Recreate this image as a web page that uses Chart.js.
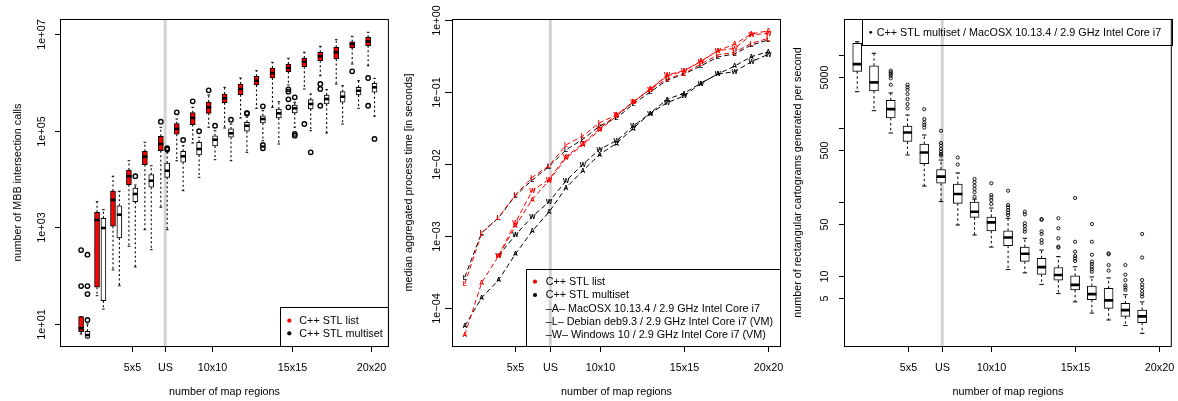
<!DOCTYPE html>
<html><head><meta charset="utf-8">
<script src="https://cdn.jsdelivr.net/npm/chart.js@4.4.0/dist/chart.umd.min.js"></script>
<style>
html,body{margin:0;padding:0;background:#fff;overflow:hidden;}
#wrap{position:relative;width:1178px;height:401px;background:#fff;}
.pn{position:absolute;top:0;height:401px;}
</style></head><body>
<div id="wrap">
<div class="pn" style="left:0;width:393px"><canvas id="c1"></canvas></div>
<div class="pn" style="left:393px;width:393px"><canvas id="c2"></canvas></div>
<div class="pn" style="left:786px;width:392px"><canvas id="c3"></canvas></div>
</div>
<script>
const FONT_FAMILY = '"Liberation Sans", Arial, Helvetica, sans-serif';
const FONT_SIZE = 10.8;

// ---------- shared x axis ----------
const xTickValues = [5, 7.07, 10, 15, 20];
const xTickLabels = ['5x5', 'US', '10x10', '15x15', '20x20'];
const usPosition = 7.07;
const xAxisTitle = 'number of map regions';

// ---------- panel 1 : MBB intersection calls ----------
const gridSizes1 = [2,3,4,5,6,7,8,9,10,11,12,13,14,15,16,17,18,19,20];
const listLow  = [6.1, 38, 130, 402, 887, 2590, 23900, 55700, 118000, 114000, 184000, 292000, 306000, 889000, 734000, 1380000, 931000, 2420000, 2230000];
const listQ1   = [6.8, 57, 1045, 7600, 19800, 38500, 84400, 134000, 230000, 382000, 558000, 889000, 1240000, 1680000, 2130000, 2830000, 3080000, 5200000, 5800000];
const listMed  = [8, 1410, 3670, 11400, 29000, 53100, 109000, 184000, 306000, 471000, 734000, 1090000, 1570000, 2000000, 2700000, 3500000, 4240000, 6290000, 7160000];
const listQ3   = [14, 2040, 5640, 15300, 37500, 76700, 140000, 237000, 394000, 578000, 931000, 1350000, 2000000, 2420000, 3220000, 4240000, 5370000, 7010000, 8670000];
const listHigh = [14, 3380, 11400, 23900, 57700, 118000, 175000, 306000, 551000, 796000, 1240000, 1760000, 2620000, 3170000, 4240000, 5640000, 7730000, 9080000, 11000000];
const listOut  = [[60, 336], [], [], [], [], [154000], [241000], [408000], [690000], [], [], [], [], [723000, 645000, 449000, 306000], [138000], [931000, 734000, 330000], [], [1710000], [1240000, 330000]];

const msetLow  = [5, 20, 61, 150, 342, 887, 5720, 10800, 25100, 23900, 35700, 62200, 53100, 118000, 100000, 89700, 138000, 292000, 200000];
const msetQ1   = [5, 30, 597, 3380, 6730, 10800, 22200, 31400, 48300, 73200, 97500, 145000, 184000, 233000, 282000, 359000, 389000, 551000, 627000];
const msetMed  = [5.8, 964, 1820, 4890, 9200, 14800, 29500, 41900, 65200, 88500, 127000, 175000, 230000, 292000, 359000, 455000, 508000, 676000, 796000];
const msetQ3   = [6.95, 1530, 2790, 6500, 12300, 21400, 37500, 57700, 78900, 109000, 150000, 205000, 282000, 342000, 441000, 551000, 645000, 796000, 964000];
const msetHigh = [9.8, 2310, 5560, 7500, 18800, 35700, 49000, 73200, 100000, 138000, 193000, 261000, 400000, 389000, 578000, 710000, 859000, 1090000, 1220000];
const msetOut  = [[11.9, 41, 60, 269], [], [], [11400], [], [41000, 43300], [64300], [97500], [127000], [169000], [228000, 233000], [321000, 50700, 43300], [], [494000, 85700, 78900], [35700], [], [], [], [67500]];

const yTicks1 = [10, 1000, 100000, 10000000];
const yLabels1 = ['1e+01', '1e+03', '1e+05', '1e+07'];
const yTitle1 = 'number of MBB intersection calls';
const legend1 = ['C++ STL list', 'C++ STL multiset'];

// ---------- panel 2 : median process time ----------
const gridSizes2 = [2,3,4,5,6,7,8,9,10,11,12,13,14,15,16,17,18,19,20];
const listMacOSX   = [4.16e-5, 2.22e-4, 5.2e-4, 1.36e-3, 3.21e-3, 5.86e-3, 1.20e-2, 1.83e-2, 2.95e-2, 4.62e-2, 7.24e-2, 0.110, 0.166, 0.195, 0.269, 0.371, 0.464, 0.638, 0.710];
const listDebian   = [2.13e-4, 1.08e-3, 1.80e-3, 3.68e-3, 6.49e-3, 9.41e-3, 1.83e-2, 2.44e-2, 3.73e-2, 4.77e-2, 7.31e-2, 0.109, 0.151, 0.181, 0.244, 0.326, 0.356, 0.474, 0.556];
const listWindows  = [null, null, 5.27e-4, 1.52e-3, 4.23e-3, 6.08e-3, 1.26e-2, 1.90e-2, 3.12e-2, 4.77e-2, 7.31e-2, 0.109, 0.172, 0.197, 0.263, 0.374, 0.404, 0.619, 0.653];
const msetMacOSX   = [5.55e-5, 1.37e-4, 2.42e-4, 5.56e-4, 1.16e-3, 2.14e-3, 4.65e-3, 8.02e-3, 1.35e-2, 1.93e-2, 3.12e-2, 5.04e-2, 7.89e-2, 9.57e-2, 0.132, 0.177, 0.229, 0.309, 0.362];
const msetDebian   = [2.64e-4, 1.10e-3, 1.77e-3, 3.60e-3, 5.95e-3, 9.20e-3, 1.56e-2, 2.19e-2, 3.36e-2, 4.34e-2, 6.79e-2, 9.97e-2, 0.146, 0.177, 0.229, 0.306, 0.337, 0.449, 0.527];
const msetWindows  = [null, null, 5.27e-4, 1.02e-3, 1.84e-3, 2.97e-3, 5.77e-3, 9.84e-3, 1.59e-2, 2.10e-2, 3.36e-2, 5.04e-2, 7.08e-2, 8.77e-2, 0.132, 0.177, 0.191, 0.263, 0.333];
const osLetters = ['A', 'L', 'W'];

const yTicks2 = [1, 0.1, 0.01, 0.001, 0.0001];
const yLabels2 = ['1e+00', '1e\u221201', '1e\u221202', '1e\u221203', '1e\u221204'];
const yTitle2 = 'median aggregated process time [in seconds]';
const legend2 = ['C++ STL list', 'C++ STL multiset',
  '\u2013A\u2013 MacOSX 10.13.4 / 2.9 GHz Intel Core i7',
  '\u2013L\u2013 Debian deb9.3 / 2.9 GHz Intel Core i7 (VM)',
  '\u2013W\u2013 Windows 10 / 2.9 GHz Intel Core i7 (VM)'];

// ---------- panel 3 : cartograms per second ----------
const gridSizes3 = [2,3,4,5,6,7,8,9,10,11,12,13,14,15,16,17,18,19];
const rateLow  = [3130, 1730, 861, 433, 164, 101, 48.6, 35.6, 24.4, 12.1, 10.9, 7.6, 5.7, 4.4, 3.1, 2.5, 2.1, 1.65];
const rateQ1   = [5920, 3200, 1380, 661, 330, 179, 95.7, 61.8, 40.5, 25.5, 15.6, 10.4, 8.7, 6.4, 4.7, 3.6, 2.8, 2.3];
const rateMed  = [7430, 4200, 1820, 875, 468, 221, 128, 73.6, 52.8, 32.9, 19.8, 13.0, 10.2, 7.5, 5.6, 4.6, 3.4, 2.8];
const rateQ3   = [14200, 7050, 2390, 1070, 611, 275, 175, 99.7, 62.4, 40.6, 24.4, 17.2, 12.9, 9.9, 7.2, 6.7, 4.2, 3.4];
const rateHigh = [14900, 10400, 3010, 1510, 809, 370, 247, 109, 82.6, 60.0, 32.1, 22.2, 18.1, 13.2, 9.6, 9.3, 5.5, 4.4];
const rateOut  = [[], [], [3890, 4760, 5160, 5440, 5740, 6030], [1860, 2130, 2490, 2910, 3330, 3590, 3890], [1020, 1110, 1200, 1330, 1810], [424, 447, 480, 522, 579, 630, 923], [322, 401], [117, 135, 150, 166, 185, 205], [93.7, 106, 115, 124, 179], [66.4, 71.4, 77.6, 84.5, 90.8, 142], [39.4, 42.5, 47.1, 51.3, 67.9, 73.6], [27.7, 30.4, 36.7, 39.9, 57, 58.6], [24, 24.7, 32.1, 43.9, 60], [15.8, 17.1, 18.4, 21.1, 28.8, 113], [11.3, 12.2, 13.2, 14.4, 15.5, 19.2, 28.8, 50.1], [11.7, 13.9, 19.5, 20.1], [6.4, 6.9, 7.4, 8.7, 10.3, 13.9], [5.2, 5.6, 6.2, 6.9, 7.6, 8.7, 17.6, 36.7]];

const yTicks3 = [5, 10, 50, 100, 500, 1000, 5000, 10000];
const yLabels3 = ['5', '10', '50', '', '500', '', '5000', ''];
const yTitle3 = 'number of rectangular cartograms generated per second';
const legend3 = ['C++ STL multiset / MacOSX 10.13.4 / 2.9 GHz Intel Core i7'];

// ================= helpers =================
const RED = '#ff0000';
function font(sz){ return sz + 'px ' + FONT_FAMILY; }

function makeBoxDatasets(xs, lo, q1, med, q3, hi, out, st) {
  return [
    { type:'bar', label: st.label,
      data: xs.map((x,i)=>({x, y:[q1[i], q3[i]]})),
      backgroundColor: st.fill, borderColor:'#000', borderWidth:1, borderSkipped:false,
      barThickness: st.boxW, grouped:false, order:3,
      whisker:{xs, lo, q1, q3, hi, cap: st.capW, dash: st.dash, lw: st.whiskW} },
    { type:'scatter', data: xs.map((x,i)=>({x, y:med[i]})),
      pointStyle:'line', pointRadius: st.boxW/2, pointHoverRadius: st.boxW/2,
      pointBorderWidth: st.medW, pointBorderColor:'#000', borderColor:'#000', order:2 },
    { type:'scatter', data: out.flatMap((arr,i)=>arr.map(v=>({x:xs[i], y:v}))),
      pointStyle:'circle', pointRadius: st.outR, pointHoverRadius: st.outR,
      pointBorderWidth: st.outW, pointBorderColor:'#000', borderColor:'#000',
      pointBackgroundColor:'rgba(0,0,0,0)', backgroundColor:'rgba(0,0,0,0)', order:1 }
  ];
}

const usLinePlugin = {
  id:'usLine',
  beforeDatasetsDraw(chart){
    const {ctx, chartArea:a, scales:{x}} = chart;
    const px = x.getPixelForValue(usPosition);
    ctx.save();
    ctx.strokeStyle = '#d3d3d3'; ctx.lineWidth = 3;
    ctx.beginPath(); ctx.moveTo(px, a.top); ctx.lineTo(px, a.bottom); ctx.stroke();
    ctx.restore();
  }
};

const whiskerPlugin = {
  id:'whiskers',
  beforeDatasetsDraw(chart){
    const {ctx, scales:{x, y}} = chart;
    chart.data.datasets.forEach(ds=>{
      const w = ds.whisker; if(!w) return;
      ctx.save();
      ctx.strokeStyle = '#000'; ctx.lineWidth = w.lw;
      w.xs.forEach((xv,i)=>{
        const px = x.getPixelForValue(xv);
        const yLo = y.getPixelForValue(w.lo[i]), yQ1 = y.getPixelForValue(w.q1[i]);
        const yQ3 = y.getPixelForValue(w.q3[i]), yHi = y.getPixelForValue(w.hi[i]);
        ctx.setLineDash(w.dash);
        ctx.beginPath();
        ctx.moveTo(px, yQ3); ctx.lineTo(px, yHi);
        ctx.moveTo(px, yQ1); ctx.lineTo(px, yLo);
        ctx.stroke();
        ctx.setLineDash([]);
        ctx.lineWidth = 1;
        ctx.beginPath();
        ctx.moveTo(px - w.cap/2, yHi); ctx.lineTo(px + w.cap/2, yHi);
        ctx.moveTo(px - w.cap/2, yLo); ctx.lineTo(px + w.cap/2, yLo);
        ctx.stroke();
        ctx.lineWidth = w.lw;
      });
      ctx.restore();
    });
  }
};

function rotText(ctx, text, x, y){
  ctx.save(); ctx.translate(x, y); ctx.rotate(-Math.PI/2);
  ctx.textAlign = 'center'; ctx.textBaseline = 'alphabetic';
  ctx.fillText(text, 0, 0); ctx.restore();
}

function axesPlugin(cfg){
  return {
    id:'rAxes',
    afterDraw(chart){
      const {ctx, chartArea:a, scales:{x, y}} = chart;
      ctx.save();
      ctx.strokeStyle = '#000'; ctx.fillStyle = '#000'; ctx.lineWidth = 1;
      ctx.strokeRect(a.left - 0.5, a.top + 0.5, a.right - a.left + 1, a.bottom - a.top);
      ctx.font = font(FONT_SIZE);
      ctx.textAlign = 'center'; ctx.textBaseline = 'alphabetic';
      xTickValues.forEach((v,i)=>{
        const px = Math.round(x.getPixelForValue(v)) + 0.5;
        ctx.beginPath(); ctx.moveTo(px, a.bottom); ctx.lineTo(px, a.bottom + 6); ctx.stroke();
        ctx.fillText(xTickLabels[i], px, 370.5);
      });
      ctx.fillText(xAxisTitle, (a.left + a.right)/2, 395);
      cfg.yTicks.forEach((v,i)=>{
        const py = Math.round(y.getPixelForValue(v)) + 0.5;
        ctx.beginPath(); ctx.moveTo(a.left - cfg.tickLen, py); ctx.lineTo(a.left, py); ctx.stroke();
        if (cfg.yLabels[i]) rotText(ctx, cfg.yLabels[i], cfg.labelX, py);
      });
      rotText(ctx, cfg.title, cfg.titleX, (a.top + a.bottom)/2);
      ctx.restore();
    }
  };
}

function legendPlugin(cfg){
  return {
    id:'rLegend',
    afterDraw(chart){
      const ctx = chart.ctx;
      ctx.save();
      ctx.strokeStyle = '#000'; ctx.lineWidth = 1;
      ctx.strokeRect(cfg.x0 + 0.5, cfg.y0 + 0.5, cfg.x1 - cfg.x0, cfg.y1 - cfg.y0);
      ctx.font = font(FONT_SIZE);
      ctx.textAlign = 'left'; ctx.textBaseline = 'middle';
      cfg.rows.forEach(r=>{
        if (r.dot) {
          ctx.fillStyle = r.dot;
          ctx.beginPath(); ctx.arc(cfg.dotX, r.y, cfg.dotR, 0, Math.PI*2); ctx.fill();
        }
        ctx.fillStyle = '#000';
        ctx.fillText(r.text, cfg.textX, r.y + 0.5);
      });
      ctx.restore();
    }
  };
}

const letterPlugin = {
  id:'letters',
  afterDatasetsDraw(chart){
    const ctx = chart.ctx;
    ctx.save();
    ctx.font = 'bold ' + font(6.6);
    ctx.textAlign = 'center'; ctx.textBaseline = 'middle';
    for (let i = chart.data.datasets.length - 1; i >= 0; i--) {
      const ds = chart.data.datasets[i];
      const meta = chart.getDatasetMeta(i);
      ctx.fillStyle = ds.letterColor;
      meta.data.forEach(pt => ctx.fillText(ds.letter, pt.x, pt.y + 0.5));
    }
    ctx.restore();
  }
};

const baseOptions = (pad, xr, yr) => ({
  animation:false, responsive:true, maintainAspectRatio:false, events:[],
  layout:{padding:pad},
  plugins:{legend:{display:false}, tooltip:{enabled:false}},
  scales:{
    x:{type:'linear', min:xr[0], max:xr[1], display:false, offset:false, bounds:'data'},
    y:{type:'logarithmic', min:yr[0], max:yr[1], display:false, bounds:'data'}
  }
});

// ================= panel 1 =================
const boxStyle1 = {boxW:5, capW:2.6, medW:2.6, outR:2.2, outW:1.4, dash:[2,2.5], whiskW:1.1};
const ds1 = [
  ...makeBoxDatasets(gridSizes1.map(n=>n-0.2), listLow, listQ1, listMed, listQ3, listHigh, listOut, {...boxStyle1, label:legend1[0], fill:RED}),
  ...makeBoxDatasets(gridSizes1.map(n=>n+0.2), msetLow, msetQ1, msetMed, msetQ3, msetHigh, msetOut, {...boxStyle1, label:legend1[1], fill:'#ffffff'})
];
new Chart(document.getElementById('c1'), {
  type:'bar',
  data:{datasets: ds1},
  options: baseOptions({left:61, right:5, top:19, bottom:55}, [0.54, 21.04], [3.44, 2.075e7]),
  plugins:[usLinePlugin, whiskerPlugin,
    axesPlugin({yTicks:yTicks1, yLabels:yLabels1, tickLen:6, labelX:45, title:yTitle1, titleX:20.7}),
    legendPlugin({x0:280, y0:307, x1:388, y1:346, dotX:289.3, dotR:2.1, textX:299.3,
      rows:[{dot:RED, text:legend1[0], y:320.7}, {dot:'#000', text:legend1[1], y:333.3}]})]
});

// ================= panel 2 =================
function lineSet(values, letter, color){
  return {
    label: letter, letter, letterColor: color,
    data: gridSizes2.map((x,i)=>({x, y: values[i]})).filter(p=>p.y !== null),
    borderColor: color, borderWidth:1, borderDash:[5,3], pointRadius:0, pointHoverRadius:0,
    fill:false, tension:0
  };
}
const ds2 = [
  lineSet(listMacOSX, osLetters[0], RED),
  lineSet(listDebian, osLetters[1], RED),
  lineSet(listWindows, osLetters[2], RED),
  lineSet(msetMacOSX, osLetters[0], '#000'),
  lineSet(msetDebian, osLetters[1], '#000'),
  lineSet(msetWindows, osLetters[2], '#000')
];
new Chart(document.getElementById('c2'), {
  type:'line',
  data:{datasets: ds2},
  options: baseOptions({left:60, right:6, top:19, bottom:55}, [1.30, 20.69], [2.92e-5, 1.032]),
  plugins:[usLinePlugin, letterPlugin,
    axesPlugin({yTicks:yTicks2, yLabels:yLabels2, tickLen:8, labelX:47, title:yTitle2, titleX:18.8}),
    legendPlugin({x0:133, y0:269, x1:387, y1:346, dotX:142, dotR:2.1, textX:152.7,
      rows:[{dot:RED, text:legend2[0], y:281.7}, {dot:'#000', text:legend2[1], y:295},
            {text:legend2[2], y:308.3}, {text:legend2[3], y:321.7}, {text:legend2[4], y:335}]})]
});

// ================= panel 3 =================
const ds3 = makeBoxDatasets(gridSizes3, rateLow, rateQ1, rateMed, rateQ3, rateHigh, rateOut,
  {boxW:9, capW:4.5, medW:2.7, outR:1.6, outW:0.9, dash:[2.5,2.5], whiskW:1, label:legend3[0], fill:'#ffffff'});
new Chart(document.getElementById('c3'), {
  type:'bar',
  data:{datasets: ds3},
  options: baseOptions({left:59, right:6, top:19, bottom:55}, [1.27, 20.71], [1.109, 30340]),
  plugins:[usLinePlugin, whiskerPlugin,
    axesPlugin({yTicks:yTicks3, yLabels:yLabels3, tickLen:6, labelX:42.3, title:yTitle3, titleX:15}),
    legendPlugin({x0:76, y0:19, x1:386, y1:45, dotX:84.7, dotR:1.4, textX:90.7,
      rows:[{dot:'#000', text:legend3[0], y:32.3}]})]
});
</script>
</body></html>
